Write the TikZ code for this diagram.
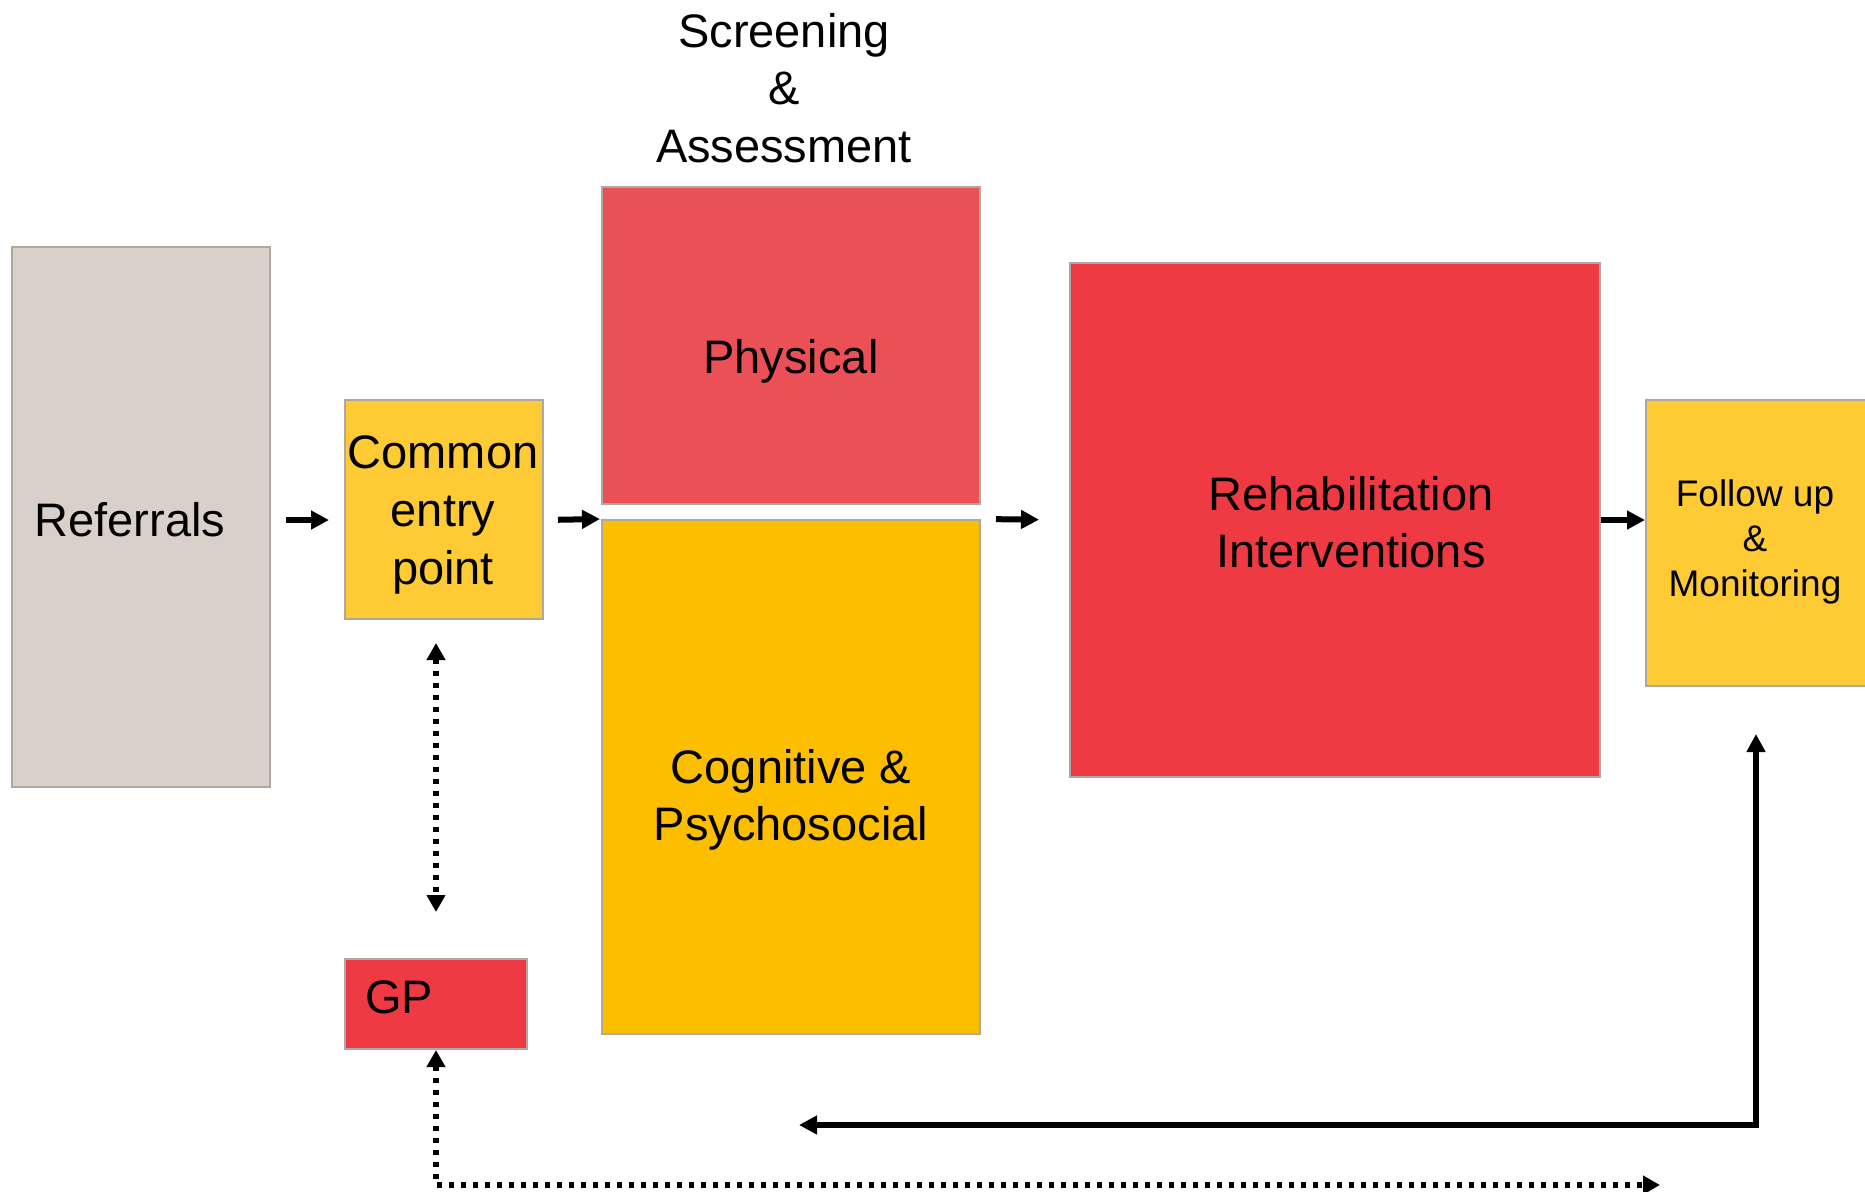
\documentclass[tikz,border=0pt]{standalone}
\usepackage{fontspec}
\setmainfont{Liberation Sans}
\usetikzlibrary{arrows.meta}
\definecolor{refgrey}{HTML}{D9D0C9}
\definecolor{edgegrey}{HTML}{B0A89F}
\definecolor{lightyellow}{HTML}{FFCB34}
\definecolor{gold}{HTML}{FDBE00}
\definecolor{lightred}{HTML}{EA5055}
\definecolor{boxred}{HTML}{EF3A43}

\begin{document}
\begin{tikzpicture}[x=0.5pt, y=-0.5pt,
    box/.style={draw=edgegrey, line width=1pt, inner sep=0pt},
    lbl/.style={font=\fontsize{23.5}{28.8}\selectfont, align=center, inner sep=0pt},
    small/.style={font=\fontsize{18.5}{22.3}\selectfont, align=center, inner sep=0pt},
    arr/.style={line width=3pt, -{Triangle[length=9pt, width=9pt]}},
    dots/.style={line width=2.6pt, dash pattern=on 2.6pt off 3.4pt, {Triangle[length=8.5pt, width=9pt]}-{Triangle[length=8.5pt, width=9pt]}}]
    \useasboundingbox (0, 0) rectangle (1865, 1191);
    \node[box, fill=refgrey, minimum width=129pt, minimum height=270pt] (ref) at (141, 517) {};
    \node[box, fill=lightyellow, minimum width=99pt, minimum height=109.5pt] (cep) at (444, 509.5) {};
    \node[box, fill=lightred, minimum width=189pt, minimum height=158.5pt] (phys) at (791, 345.5) {};
    \node[box, fill=gold, minimum width=189pt, minimum height=257pt] (cog) at (791, 777) {};
    \node[box, fill=boxred, minimum width=265pt, minimum height=257pt] (rehab) at (1335, 520) {};
    \node[box, fill=lightyellow, minimum width=110pt, minimum height=143pt] (fol) at (1756, 543) {};
    \node[box, fill=boxred, minimum width=91pt, minimum height=45pt] (gp) at (436, 1004) {};
    \node[lbl] at (130, 520) {Referrals};
    \node[lbl] at (443, 515) {Common\\entry\\point};
    \node[lbl] at (784, 88) {Screening\\\&\\Assessment};
    \node[lbl] at (791, 361) {Physical};
    \node[lbl] at (791, 800) {Cognitive \&\\Psychosocial};
    \node[lbl] at (1351, 522) {Rehabilitation\\Interventions};
    \node[small] at (1755, 542) {Follow up\\\&\\Monitoring};
    \node[lbl] at (399, 997) {GP};
    \coordinate (mid) at (0, 520);
    \coordinate (dotend) at (1660, 1185);
    \coordinate (backend) at (799, 1125);
    \draw[arr, shorten <=7.5pt, shorten >=7.5pt] (ref.east |- mid) -- (cep.west |- mid);
    \draw[arr, shorten <=7pt, shorten >=0.5pt] (cep.east |- mid) -- (cog.north west);
    \draw[arr, shorten <=7.5pt, shorten >=15pt] (cog.north east) -- (rehab.west |- mid);
    \draw[arr] (rehab.east |- mid) -- (fol.west |- mid);
    \draw[dots, shorten <=11.5pt, shorten >=23pt] (gp.north |- cep.south) -- (gp.north);
    \draw[dots] (gp.south) -- (gp.south |- dotend) -- (dotend);
    \draw[line width=3pt, {Triangle[length=9pt, width=9pt]}-{Triangle[length=9pt, width=9pt]}, shorten >=23.5pt] (backend) -- (fol.south |- backend) -- (fol.south);
\end{tikzpicture}
\end{document}
